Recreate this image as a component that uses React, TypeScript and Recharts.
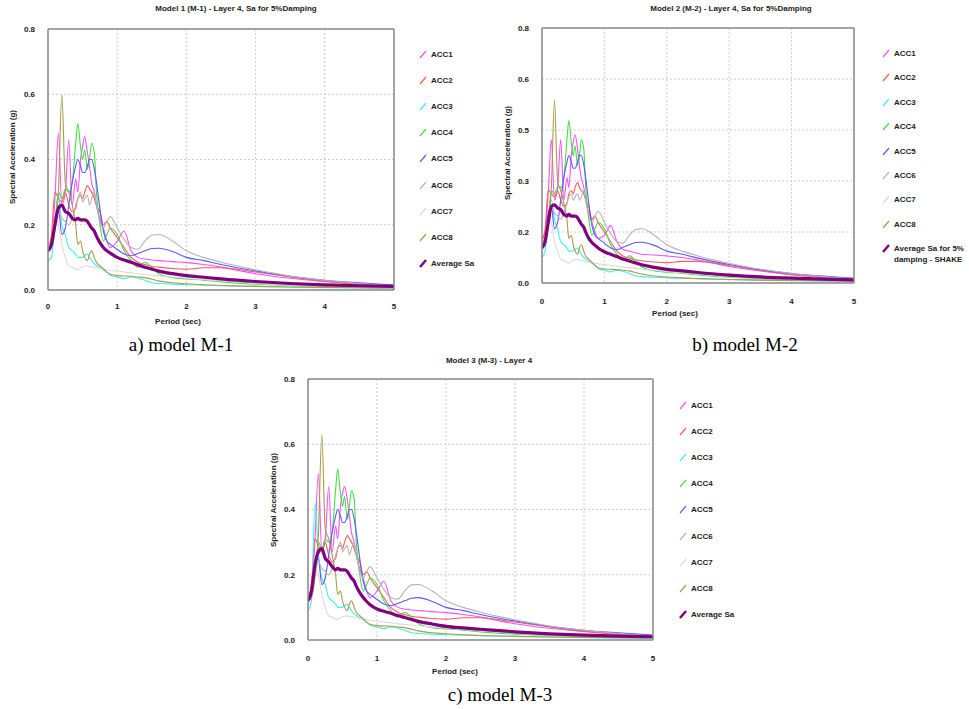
import { LineChart, Line, XAxis, YAxis, CartesianGrid } from "recharts";

// periods (sec) shared by every spectrum
const PERIODS = [
  0, 0.05, 0.1, 0.15, 0.2, 0.25, 0.3, 0.35, 0.4, 0.43, 0.47, 0.5, 0.53, 0.57, 0.6, 0.63, 0.67, 0.7, 0.75,
  0.8, 0.85, 0.9, 1.0, 1.1, 1.2, 1.3, 1.4, 1.5, 1.6, 1.8, 2.0, 2.25, 2.5, 3.0, 3.5, 4.0, 4.5, 5.0,
];

// ---- Model 1 ----
const M1_ACC1 = [0.13, 0.15, 0.28, 0.48, 0.26, 0.3, 0.46, 0.26, 0.34, 0.3, 0.4, 0.44, 0.47, 0.42, 0.38, 0.33, 0.3, 0.26, 0.22, 0.19, 0.15, 0.13, 0.15, 0.18, 0.12, 0.1, 0.095, 0.092, 0.09, 0.087, 0.084, 0.078, 0.07, 0.05, 0.036, 0.026, 0.02, 0.014];
const M1_ACC2 = [0.13, 0.17, 0.3, 0.28, 0.27, 0.3, 0.26, 0.24, 0.25, 0.28, 0.29, 0.28, 0.3, 0.32, 0.31, 0.3, 0.28, 0.26, 0.24, 0.2, 0.21, 0.19, 0.16, 0.13, 0.1, 0.085, 0.078, 0.073, 0.07, 0.066, 0.064, 0.068, 0.068, 0.055, 0.04, 0.026, 0.017, 0.012];
const M1_ACC3 = [0.09, 0.1, 0.2, 0.29, 0.2, 0.17, 0.13, 0.12, 0.11, 0.1, 0.1, 0.1, 0.105, 0.11, 0.1, 0.09, 0.08, 0.075, 0.07, 0.062, 0.055, 0.045, 0.04, 0.035, 0.04, 0.037, 0.03, 0.022, 0.02, 0.018, 0.016, 0.015, 0.013, 0.011, 0.009, 0.007, 0.006, 0.005];
const M1_ACC4 = [0.12, 0.14, 0.2, 0.3, 0.28, 0.31, 0.3, 0.33, 0.45, 0.51, 0.44, 0.4, 0.43, 0.37, 0.4, 0.45, 0.42, 0.3, 0.2, 0.15, 0.17, 0.19, 0.17, 0.12, 0.09, 0.07, 0.085, 0.07, 0.05, 0.038, 0.034, 0.03, 0.025, 0.018, 0.014, 0.011, 0.009, 0.008];
const M1_ACC5 = [0.12, 0.14, 0.22, 0.25, 0.17, 0.19, 0.26, 0.33, 0.38, 0.4, 0.38, 0.36, 0.36, 0.38, 0.4, 0.4, 0.37, 0.33, 0.25, 0.18, 0.15, 0.14, 0.125, 0.11, 0.105, 0.112, 0.12, 0.127, 0.128, 0.118, 0.1, 0.09, 0.078, 0.058, 0.042, 0.03, 0.022, 0.015];
const M1_ACC6 = [0.13, 0.14, 0.2, 0.24, 0.22, 0.21, 0.2, 0.22, 0.26, 0.28, 0.3, 0.27, 0.28, 0.29, 0.26, 0.28, 0.3, 0.26, 0.21, 0.19, 0.21, 0.225, 0.19, 0.155, 0.13, 0.125, 0.15, 0.168, 0.17, 0.15, 0.12, 0.1, 0.085, 0.062, 0.043, 0.03, 0.02, 0.013];
const M1_ACC7 = [0.13, 0.15, 0.22, 0.2, 0.14, 0.1, 0.075, 0.07, 0.065, 0.062, 0.068, 0.072, 0.073, 0.074, 0.072, 0.07, 0.07, 0.068, 0.066, 0.064, 0.062, 0.06, 0.058, 0.055, 0.053, 0.05, 0.048, 0.046, 0.043, 0.04, 0.036, 0.032, 0.028, 0.02, 0.015, 0.011, 0.008, 0.006];
const M1_ACC8 = [0.12, 0.13, 0.18, 0.3, 0.6, 0.33, 0.3, 0.26, 0.2, 0.14, 0.15, 0.12, 0.1, 0.09, 0.11, 0.12, 0.1, 0.085, 0.075, 0.065, 0.055, 0.048, 0.044, 0.043, 0.042, 0.04, 0.038, 0.033, 0.028, 0.022, 0.019, 0.016, 0.014, 0.011, 0.009, 0.008, 0.007, 0.006];
const M1_AVG = [0.12, 0.14, 0.2, 0.25, 0.26, 0.24, 0.235, 0.22, 0.215, 0.22, 0.215, 0.215, 0.215, 0.21, 0.2, 0.19, 0.18, 0.165, 0.145, 0.13, 0.12, 0.113, 0.1, 0.092, 0.085, 0.077, 0.07, 0.064, 0.058, 0.05, 0.044, 0.039, 0.034, 0.026, 0.02, 0.016, 0.013, 0.011];

// ---- Model 2 ----
const M2_ACC1 = [0.14, 0.16, 0.28, 0.45, 0.26, 0.3, 0.45, 0.26, 0.33, 0.3, 0.4, 0.44, 0.465, 0.42, 0.37, 0.33, 0.3, 0.26, 0.22, 0.19, 0.16, 0.14, 0.15, 0.18, 0.13, 0.105, 0.1, 0.095, 0.09, 0.088, 0.085, 0.08, 0.072, 0.052, 0.038, 0.027, 0.02, 0.014];
const M2_ACC2 = [0.13, 0.17, 0.29, 0.28, 0.27, 0.29, 0.26, 0.24, 0.25, 0.28, 0.29, 0.28, 0.3, 0.315, 0.3, 0.29, 0.28, 0.26, 0.24, 0.2, 0.21, 0.19, 0.16, 0.13, 0.1, 0.085, 0.078, 0.073, 0.07, 0.066, 0.064, 0.068, 0.068, 0.055, 0.04, 0.026, 0.017, 0.012];
const M2_ACC3 = [0.08, 0.1, 0.2, 0.26, 0.2, 0.17, 0.13, 0.12, 0.11, 0.1, 0.1, 0.1, 0.105, 0.11, 0.1, 0.09, 0.08, 0.075, 0.07, 0.062, 0.055, 0.045, 0.04, 0.035, 0.04, 0.037, 0.03, 0.022, 0.02, 0.018, 0.016, 0.015, 0.013, 0.011, 0.009, 0.007, 0.006, 0.005];
const M2_ACC4 = [0.12, 0.14, 0.2, 0.29, 0.28, 0.3, 0.3, 0.33, 0.45, 0.51, 0.44, 0.4, 0.43, 0.37, 0.4, 0.45, 0.42, 0.3, 0.2, 0.15, 0.17, 0.19, 0.17, 0.12, 0.09, 0.07, 0.085, 0.07, 0.05, 0.038, 0.034, 0.03, 0.025, 0.018, 0.014, 0.011, 0.009, 0.008];
const M2_ACC5 = [0.12, 0.14, 0.22, 0.24, 0.17, 0.19, 0.26, 0.33, 0.38, 0.4, 0.38, 0.36, 0.36, 0.38, 0.4, 0.4, 0.37, 0.33, 0.25, 0.18, 0.15, 0.14, 0.125, 0.11, 0.105, 0.112, 0.12, 0.127, 0.128, 0.118, 0.1, 0.09, 0.078, 0.058, 0.042, 0.03, 0.022, 0.015];
const M2_ACC6 = [0.13, 0.14, 0.2, 0.24, 0.22, 0.21, 0.2, 0.22, 0.25, 0.27, 0.28, 0.26, 0.27, 0.28, 0.26, 0.27, 0.29, 0.26, 0.21, 0.19, 0.21, 0.225, 0.19, 0.155, 0.13, 0.125, 0.15, 0.167, 0.17, 0.15, 0.12, 0.1, 0.085, 0.062, 0.043, 0.03, 0.02, 0.013];
const M2_ACC7 = [0.12, 0.14, 0.2, 0.19, 0.13, 0.1, 0.075, 0.07, 0.065, 0.062, 0.068, 0.072, 0.073, 0.074, 0.072, 0.07, 0.07, 0.068, 0.066, 0.064, 0.062, 0.06, 0.058, 0.055, 0.053, 0.05, 0.048, 0.046, 0.043, 0.04, 0.036, 0.032, 0.028, 0.02, 0.015, 0.011, 0.008, 0.006];
const M2_ACC8 = [0.12, 0.13, 0.18, 0.3, 0.575, 0.32, 0.29, 0.25, 0.2, 0.14, 0.15, 0.12, 0.1, 0.09, 0.11, 0.12, 0.1, 0.085, 0.075, 0.065, 0.055, 0.048, 0.044, 0.043, 0.042, 0.04, 0.038, 0.033, 0.028, 0.022, 0.019, 0.016, 0.014, 0.011, 0.009, 0.008, 0.007, 0.006];
const M2_AVG = [0.11, 0.13, 0.19, 0.24, 0.245, 0.235, 0.23, 0.215, 0.21, 0.215, 0.21, 0.21, 0.21, 0.205, 0.195, 0.185, 0.175, 0.16, 0.14, 0.127, 0.118, 0.11, 0.098, 0.09, 0.083, 0.075, 0.069, 0.063, 0.057, 0.049, 0.043, 0.038, 0.033, 0.025, 0.019, 0.015, 0.012, 0.01];

// ---- Model 3 ----
const M3_ACC1 = [0.13, 0.15, 0.3, 0.51, 0.27, 0.31, 0.47, 0.27, 0.35, 0.31, 0.41, 0.45, 0.47, 0.43, 0.38, 0.33, 0.3, 0.26, 0.22, 0.19, 0.15, 0.13, 0.15, 0.18, 0.12, 0.1, 0.095, 0.092, 0.09, 0.087, 0.084, 0.078, 0.07, 0.05, 0.036, 0.026, 0.02, 0.014];
const M3_ACC2 = [0.13, 0.17, 0.31, 0.29, 0.27, 0.3, 0.26, 0.24, 0.25, 0.28, 0.29, 0.28, 0.3, 0.32, 0.31, 0.3, 0.28, 0.26, 0.24, 0.2, 0.21, 0.19, 0.16, 0.13, 0.1, 0.085, 0.078, 0.073, 0.07, 0.066, 0.064, 0.068, 0.068, 0.055, 0.04, 0.026, 0.017, 0.012];
const M3_ACC3 = [0.09, 0.12, 0.42, 0.27, 0.19, 0.17, 0.13, 0.12, 0.11, 0.1, 0.1, 0.1, 0.105, 0.11, 0.1, 0.09, 0.08, 0.075, 0.07, 0.062, 0.055, 0.045, 0.04, 0.035, 0.04, 0.037, 0.03, 0.022, 0.02, 0.018, 0.016, 0.015, 0.013, 0.011, 0.009, 0.007, 0.006, 0.005];
const M3_ACC4 = [0.12, 0.14, 0.2, 0.3, 0.28, 0.31, 0.3, 0.33, 0.46, 0.524, 0.45, 0.41, 0.44, 0.37, 0.41, 0.457, 0.43, 0.3, 0.2, 0.15, 0.17, 0.19, 0.17, 0.12, 0.09, 0.07, 0.085, 0.07, 0.05, 0.038, 0.034, 0.03, 0.025, 0.018, 0.014, 0.011, 0.009, 0.008];
const M3_ACC5 = [0.12, 0.14, 0.22, 0.25, 0.17, 0.19, 0.26, 0.33, 0.38, 0.4, 0.38, 0.36, 0.36, 0.38, 0.4, 0.4, 0.37, 0.33, 0.25, 0.18, 0.15, 0.14, 0.125, 0.11, 0.105, 0.112, 0.12, 0.128, 0.13, 0.118, 0.1, 0.09, 0.078, 0.058, 0.042, 0.03, 0.022, 0.015];
const M3_ACC6 = [0.13, 0.14, 0.2, 0.24, 0.22, 0.21, 0.2, 0.22, 0.26, 0.28, 0.3, 0.27, 0.28, 0.29, 0.26, 0.28, 0.3, 0.26, 0.21, 0.19, 0.21, 0.225, 0.19, 0.155, 0.13, 0.125, 0.15, 0.169, 0.17, 0.15, 0.12, 0.1, 0.085, 0.062, 0.043, 0.03, 0.02, 0.013];
const M3_ACC7 = [0.13, 0.15, 0.22, 0.2, 0.14, 0.1, 0.075, 0.07, 0.065, 0.062, 0.068, 0.072, 0.073, 0.074, 0.072, 0.07, 0.07, 0.068, 0.066, 0.064, 0.062, 0.06, 0.058, 0.055, 0.053, 0.05, 0.048, 0.046, 0.043, 0.04, 0.036, 0.032, 0.028, 0.02, 0.015, 0.011, 0.008, 0.006];
const M3_ACC8 = [0.12, 0.13, 0.19, 0.32, 0.63, 0.34, 0.31, 0.26, 0.2, 0.14, 0.15, 0.12, 0.1, 0.09, 0.11, 0.12, 0.1, 0.085, 0.075, 0.065, 0.055, 0.048, 0.044, 0.043, 0.042, 0.04, 0.038, 0.033, 0.028, 0.022, 0.019, 0.016, 0.014, 0.011, 0.009, 0.008, 0.007, 0.006];
const M3_AVG = [0.12, 0.15, 0.23, 0.27, 0.28, 0.25, 0.24, 0.225, 0.215, 0.22, 0.215, 0.215, 0.215, 0.21, 0.2, 0.19, 0.18, 0.165, 0.145, 0.13, 0.118, 0.108, 0.095, 0.088, 0.082, 0.075, 0.069, 0.063, 0.057, 0.049, 0.042, 0.037, 0.033, 0.025, 0.019, 0.015, 0.012, 0.01];

const SERIES_KEYS = ["acc1", "acc2", "acc3", "acc4", "acc5", "acc6", "acc7", "acc8", "avg"];
const SERIES_NAMES = ["ACC1", "ACC2", "ACC3", "ACC4", "ACC5", "ACC6", "ACC7", "ACC8"];
const COLORS = ["#ff4dff", "#ff5a5a", "#3ff0f0", "#44e044", "#5a5aff", "#b4b4b4", "#dadada", "#a89c48", "#800080"];

const X_TICKS = [0, 1, 2, 3, 4, 5];
const Y_TICKS_A = [0, 0.2, 0.4, 0.6, 0.8];
const Y_TICKS_B = [0, 0.16, 0.32, 0.48, 0.64, 0.8];

const range = (step: number, max: number) =>
  Array.from({ length: Math.round(max / step) + 1 }, (_, i) => +(i * step).toFixed(4));

const buildRows = (cols: number[][]) =>
  PERIODS.map((p, i) => {
    const r: Record<string, number> = { p };
    cols.forEach((c, k) => (r[SERIES_KEYS[k]] = c[i]));
    return r;
  });

const ROWS_1 = buildRows([M1_ACC1, M1_ACC2, M1_ACC3, M1_ACC4, M1_ACC5, M1_ACC6, M1_ACC7, M1_ACC8, M1_AVG]);
const ROWS_2 = buildRows([M2_ACC1, M2_ACC2, M2_ACC3, M2_ACC4, M2_ACC5, M2_ACC6, M2_ACC7, M2_ACC8, M2_AVG]);
const ROWS_3 = buildRows([M3_ACC1, M3_ACC2, M3_ACC3, M3_ACC4, M3_ACC5, M3_ACC6, M3_ACC7, M3_ACC8, M3_AVG]);

const SANS = "'Liberation Sans', Arial, sans-serif";
const FRAME = "#8a8a8a";

function Text({ x, y, size, children, bold = true, rotate = false, serif = false }: any) {
  return (
    <div
      style={{
        position: "absolute",
        left: x,
        top: y,
        transform: `translate(-50%, -50%)${rotate ? " rotate(-90deg)" : ""}`,
        whiteSpace: "nowrap",
        fontFamily: serif ? "'Liberation Serif', 'Times New Roman', serif" : SANS,
        fontSize: size,
        fontWeight: bold ? 700 : 400,
        color: serif ? "#000" : "#222",
        lineHeight: 1,
      }}
    >
      {children}
    </div>
  );
}

function Legend({ x, y, step, lastLabel }: { x: number; y: number; step: number; lastLabel: string[] }) {
  const labels = [...SERIES_NAMES, lastLabel];
  return (
    <>
      {labels.map((lab, i) => (
        <div
          key={i}
          style={{ position: "absolute", left: x, top: y + i * step - 5, display: "flex", alignItems: "flex-start" }}
        >
          <svg width={9} height={10} style={{ marginRight: 3 }}>
            <line x1={1} y1={9} x2={7} y2={2} stroke={COLORS[i]} strokeWidth={i === 8 ? 2.5 : 1.2} />
          </svg>
          <div style={{ fontFamily: SANS, fontSize: 8, fontWeight: 700, color: "#222", lineHeight: "11px" }}>
            {Array.isArray(lab) ? lab.map((l, j) => <div key={j}>{l}</div>) : lab}
          </div>
        </div>
      ))}
    </>
  );
}

function SpectrumChart({ x, y, w, h, rows, yTicks, yMinor, xMargin }: any) {
  const L = 40, R = 10, T = 10, B = 25;
  const axisTick = { fontSize: 8, fontWeight: 700, fill: "#222", fontFamily: SANS };
  return (
    <div style={{ position: "absolute", left: x - L, top: y - T }}>
      <LineChart width={w + L + R} height={h + T + B} data={rows} margin={{ top: T, right: R, bottom: B - 1, left: L - 1 }}>
        <CartesianGrid stroke="#cdcdcd" strokeDasharray="2 2" />
        <XAxis dataKey="p" type="number" domain={[0, 5]} allowDataOverflow ticks={X_TICKS} interval={0} height={1}
          tickLine={false} axisLine={{ stroke: FRAME, strokeWidth: 1.5 }} tick={axisTick} tickMargin={xMargin} />
        <XAxis xAxisId="bm" dataKey="p" type="number" domain={[0, 5]} allowDataOverflow ticks={range(0.2, 5)} interval={0}
          orientation="bottom" mirror height={1} tick={false} tickSize={3} axisLine={false} tickLine={{ stroke: FRAME }} />
        <XAxis xAxisId="tm" dataKey="p" type="number" domain={[0, 5]} allowDataOverflow ticks={range(0.2, 5)} interval={0}
          orientation="top" mirror height={1} tick={false} tickSize={3} axisLine={{ stroke: FRAME, strokeWidth: 1.5 }} tickLine={{ stroke: FRAME }} />
        <YAxis type="number" domain={[0, 0.8]} allowDataOverflow ticks={yTicks} interval={0} width={1}
          tickLine={false} axisLine={{ stroke: FRAME, strokeWidth: 1.5 }} tick={axisTick} tickMargin={7}
          tickFormatter={(v: number) => v.toFixed(1)} />
        <YAxis yAxisId="lm" type="number" domain={[0, 0.8]} allowDataOverflow ticks={yMinor} interval={0}
          orientation="left" mirror width={1} tick={false} tickSize={3} axisLine={false} tickLine={{ stroke: FRAME }} />
        <YAxis yAxisId="rm" type="number" domain={[0, 0.8]} allowDataOverflow ticks={yMinor} interval={0}
          orientation="right" mirror width={1} tick={false} tickSize={3} axisLine={{ stroke: FRAME, strokeWidth: 1.5 }} tickLine={{ stroke: FRAME }} />
        {SERIES_KEYS.map((k, i) => (
          <Line key={k} dataKey={k} type="monotone" stroke={COLORS[i]} strokeWidth={i === 8 ? 3.2 : 1.1}
            dot={false} activeDot={false} isAnimationActive={false} />
        ))}
      </LineChart>
    </div>
  );
}

export default function App() {
  return (
    <div style={{ position: "absolute", left: 0, top: 0, width: 969, height: 709, background: "#fff", overflow: "hidden" }}>
      {/* a) model M-1 */}
      <Text x={236} y={9} size={8}>Model 1 (M-1) - Layer 4, Sa for 5%Damping</Text>
      <SpectrumChart x={48} y={29} w={346} h={261} rows={ROWS_1} yTicks={Y_TICKS_A} yMinor={range(0.04, 0.8)} xMargin={7} />
      <Text x={13} y={157} size={8} rotate>Spectral Acceleration (g)</Text>
      <Text x={178} y={322} size={8}>Period (sec)</Text>
      <Legend x={419} y={54} step={26.1} lastLabel={["Average Sa"]} />
      <Text x={181} y={344} size={19} bold={false} serif>a) model M-1</Text>

      {/* b) model M-2 */}
      <Text x={731} y={9} size={8}>Model 2 (M-2) - Layer 4, Sa for 5%Damping</Text>
      <SpectrumChart x={542} y={28} w={312} h={255} rows={ROWS_2} yTicks={Y_TICKS_B} yMinor={range(0.032, 0.8)} xMargin={9} />
      <Text x={508} y={153} size={8} rotate>Spectral Acceleration (g)</Text>
      <Text x={675} y={314} size={8}>Period (sec)</Text>
      <Legend x={882} y={53} step={24.4} lastLabel={["Average Sa for 5%", "damping - SHAKE"]} />
      <Text x={745} y={344} size={19} bold={false} serif>b) model M-2</Text>

      {/* c) model M-3 */}
      <Text x={489} y={361} size={8}>Model 3 (M-3) - Layer 4</Text>
      <SpectrumChart x={308} y={379} w={345} h={261} rows={ROWS_3} yTicks={Y_TICKS_A} yMinor={range(0.04, 0.8)} xMargin={9} />
      <Text x={274} y={500} size={8} rotate>Spectral Acceleration (g)</Text>
      <Text x={455} y={672} size={8}>Period (sec)</Text>
      <Legend x={679} y={405} step={26.1} lastLabel={["Average Sa"]} />
      <Text x={500} y={694} size={19} bold={false} serif>c) model M-3</Text>
    </div>
  );
}
